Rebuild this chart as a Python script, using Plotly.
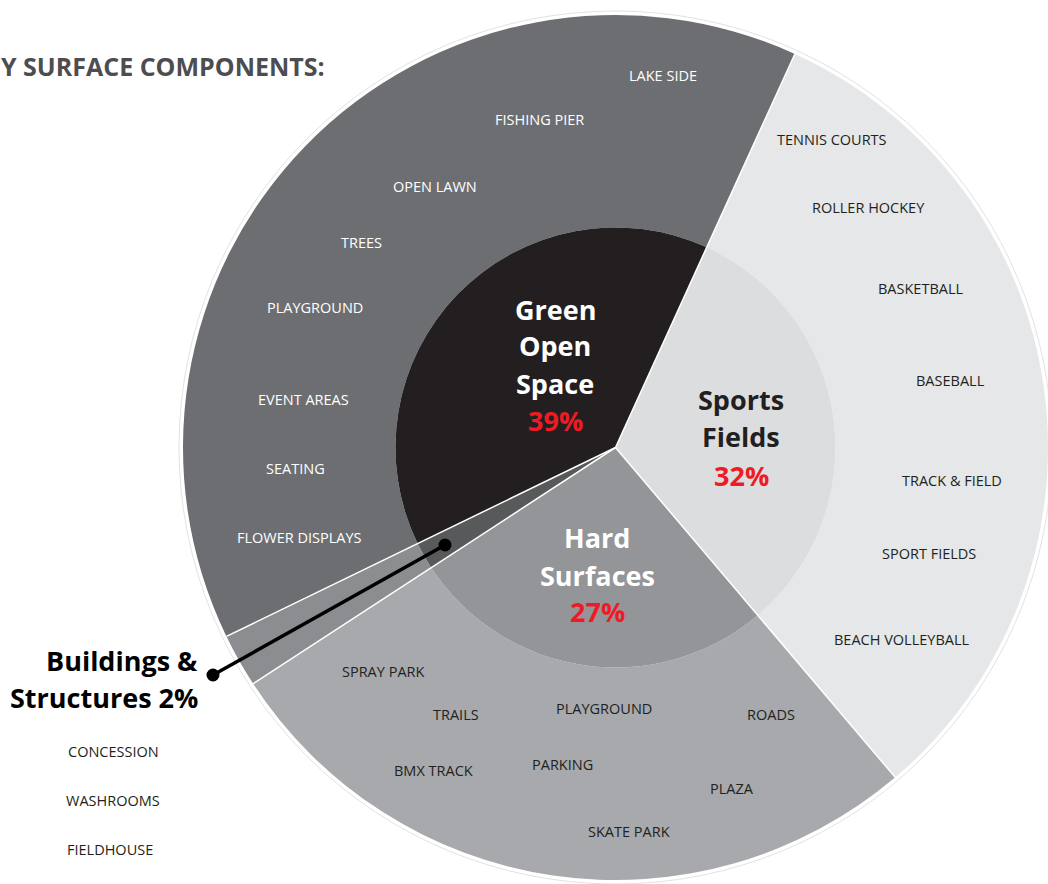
import math
import plotly.graph_objects as go

W, H = 1048, 884

# ---- data ----
categories = ["Sports Fields", "Hard Surfaces", "Buildings & Structures", "Green Open Space"]
shares = [32, 27, 2, 39]
center_lines = [["Sports", "Fields"], ["Hard", "Surfaces"], [], ["Green", "Open", "Space"]]

green_components = ["LAKE SIDE", "FISHING PIER", "OPEN LAWN", "TREES", "PLAYGROUND",
                    "EVENT AREAS", "SEATING", "FLOWER DISPLAYS"]
sports_components = ["TENNIS COURTS", "ROLLER HOCKEY", "BASKETBALL", "BASEBALL",
                     "TRACK & FIELD", "SPORT FIELDS", "BEACH VOLLEYBALL"]
hard_components = ["SPRAY PARK", "TRAILS", "PLAYGROUND", "ROADS", "BMX TRACK",
                   "PARKING", "PLAZA", "SKATE PARK"]
building_components = ["CONCESSION", "WASHROOMS", "FIELDHOUSE"]
title_text = "Y SURFACE COMPONENTS:"

# ---- styles / layout positions (pixels) ----
inner_colors = ["#dcdddf", "#939598", "#58595b", "#231f20"]
outer_colors = ["#e6e7e8", "#a7a9ac", "#8b8d90", "#6d6e71"]
RED = "#ed1c24"
DARK = "#231f20"
FONT = "Open Sans"
ROTATION = 24.5

green_pos = [(663, 75), (539, 120), (435, 186), (361, 242), (315, 307), (303, 400), (295, 468), (299, 537)]
sports_pos = [(832, 139), (868, 207), (921, 289), (950, 380), (952, 481), (929, 553), (902, 639)]
hard_pos = [(383, 671), (456, 714), (604, 708), (771, 714), (433, 770), (562, 764), (732, 788), (629, 831)]
building_pos = [(113, 751), (113, 800), (110, 849)]

center_pos = [(741, [400, 436, 475]), (597, [537, 575, 611]), None, (555, [309, 346, 383, 420])]
center_color = [DARK, "white", None, "white"]

cx, cy = 615.5, 447.5
R_out = 432.5
R_in = 220


def px(x, y):
    return x / W, 1 - y / H


fig = go.Figure()

# outer ring
fig.add_trace(go.Pie(
    labels=categories, values=shares, sort=False, direction="clockwise", rotation=ROTATION,
    hole=R_in / R_out, marker=dict(colors=outer_colors, line=dict(color="white", width=0)),
    textinfo="none", hoverinfo="none", showlegend=False,
    domain=dict(x=[(cx - R_out) / W, 1.0], y=[(H - (cy + R_out)) / H, (H - (cy - R_out)) / H]),
))
# inner disk
fig.add_trace(go.Pie(
    labels=categories, values=shares, sort=False, direction="clockwise", rotation=ROTATION,
    marker=dict(colors=inner_colors, line=dict(color="white", width=0)),
    textinfo="none", hoverinfo="none", showlegend=False,
    domain=dict(x=[(cx - R_in) / W, (cx + R_in) / W], y=[(H - (cy + R_in)) / H, (H - (cy - R_in)) / H]),
))

ann = []


def add_text(x, y, text, size, color, bold=False, xanchor="center"):
    ax, ay = px(x, y)
    t = f"<b>{text}</b>" if bold else text
    ann.append(dict(x=ax, y=ay, xref="paper", yref="paper", text=t, showarrow=False,
                    xanchor=xanchor, yanchor="middle",
                    font=dict(family=FONT, size=size, color=color)))


for names, poss, col in [(green_components, green_pos, "white"),
                         (sports_components, sports_pos, DARK),
                         (hard_components, hard_pos, DARK),
                         (building_components, building_pos, DARK)]:
    for n, (x, y) in zip(names, poss):
        add_text(x, y, n, 14.5, col)

for lines, share, pos, col in zip(center_lines, shares, center_pos, center_color):
    if pos is None:
        continue
    x, ys = pos
    for ln, y in zip(lines, ys[:-1]):
        add_text(x, y, ln, 27, col, bold=True)
    add_text(x, ys[-1], f"{share}%", 27, RED, bold=True)

# buildings callout
add_text(200, 660, "Buildings &", 27, "#000000", bold=True, xanchor="right")
add_text(200, 697, f"Structures {shares[2]}%", 27, "#000000", bold=True, xanchor="right")

# title
add_text(-1, 66, title_text, 25, "#4d4d4f", bold=True, xanchor="left")

shapes = []
# faint outer outline
x0, y0 = px(cx - R_out - 4, cy - R_out - 4)
x1, y1 = px(cx + R_out + 4, cy + R_out + 4)
shapes.append(dict(type="circle", xref="paper", yref="paper", x0=x0, x1=x1, y0=y1, y1=y0,
                   line=dict(color="#e2e2e2", width=1), fillcolor="rgba(0,0,0,0)", layer="below"))

# white radial separators at slice boundaries (from cumulative shares)
total = sum(shares)
cum = 0
for s in shares:
    ang = math.radians(ROTATION + 360 * cum / total)
    ex, ey = px(cx + R_out * math.sin(ang), cy - R_out * math.cos(ang))
    sx, sy = px(cx, cy)
    shapes.append(dict(type="line", xref="paper", yref="paper", x0=sx, y0=sy, x1=ex, y1=ey,
                       line=dict(color="white", width=1.5)))
    cum += s

# leader line
lx0, ly0 = px(445, 545)
lx1, ly1 = px(213, 675)
shapes.append(dict(type="line", xref="paper", yref="paper", x0=lx0, y0=ly0, x1=lx1, y1=ly1,
                   line=dict(color="black", width=3.5)))
for (dx, dy) in [(445, 545), (213, 675)]:
    a0, b0 = px(dx - 6.5, dy - 6.5)
    a1, b1 = px(dx + 6.5, dy + 6.5)
    shapes.append(dict(type="circle", xref="paper", yref="paper", x0=a0, x1=a1, y0=b1, y1=b0,
                       line=dict(color="black", width=0), fillcolor="black"))

fig.update_layout(
    width=W, height=H, margin=dict(l=0, r=0, t=0, b=0),
    paper_bgcolor="white", plot_bgcolor="white",
    annotations=ann, shapes=shapes, showlegend=False,
)

fig.write_html("out.html", config={"displayModeBar": False},
               post_script="document.body.style.margin='0';document.body.style.padding='0';"
                           "document.body.style.overflow='hidden';")
